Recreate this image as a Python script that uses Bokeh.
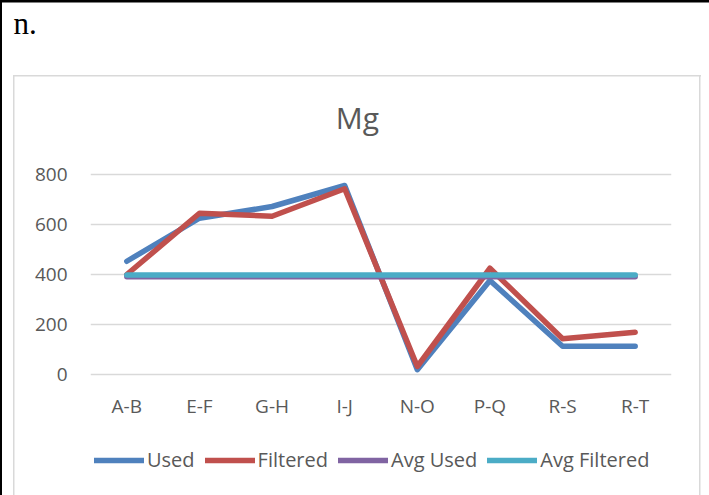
import numpy as np
from bokeh.plotting import figure
from bokeh.layouts import column
from bokeh.models import (FactorRange, Range1d, Label, Title, Legend,
                          LegendItem, FixedTicker)
from bokeh.embed import file_html
from bokeh.resources import INLINE

# Mg concentrations per sampling pair
categories = ["A-B", "E-F", "G-H", "I-J", "N-O", "P-Q", "R-S", "R-T"]
used = [453, 625, 672, 756, 19, 376, 113, 113]
filtered = [400, 645, 633, 743, 32, 425, 143, 169]
avg_used = [391, 391, 391, 391, 391, 391, 391, 391]
avg_filtered = [398, 398, 398, 398, 398, 398, 398, 398]
y_ticks = [0, 200, 400, 600, 800]

series = [("Used", used, "#4F81BD"),
          ("Filtered", filtered, "#C0504D"),
          ("Avg Used", avg_used, "#8064A2"),
          ("Avg Filtered", avg_filtered, "#4BACC6")]

TEXT = "#595959"
FONT = "Open Sans"
LW = 5.5

W, H = 709, 495
FL, FR, FT, FB = 90, 671, 45, 379   # plot frame edges in canvas pixels
CHART_H = 421                        # chart canvas height; legend strip below

grey = "linear-gradient(#D9D9D9,#D9D9D9)"
black = "linear-gradient(#000,#000)"


def rules(top_rule, box_top):
    """CSS background: black page rules plus the light grey chart-area frame."""
    layers = []
    if top_rule:
        layers.append(f"{black} 0 0/100% 2.5px no-repeat")
    layers.append(f"{black} 0 0/2px 100% no-repeat")
    if box_top is not None:
        layers.append(f"{grey} 13px {box_top}px/688px 1.5px no-repeat")
    y0 = box_top or 0
    layers.append(f"{grey} 13px {y0}px/1.5px 100% no-repeat")
    layers.append(f"{grey} 699px {y0}px/1.5px 100% no-repeat")
    layers.append("#ffffff")
    return {"background": ", ".join(layers)}


# ---- chart ---------------------------------------------------------------
p = figure(frame_width=FR - FL, frame_height=FB - FT,
           x_range=FactorRange(*categories),
           y_range=Range1d(-20, 1316), output_backend="svg",
           toolbar_location=None, min_border_left=FL, min_border_right=W - FR,
           min_border_top=FT, min_border_bottom=CHART_H - FB)
p.outline_line_color = None
p.background_fill_alpha = 0
p.border_fill_alpha = 0
p.styles = rules(True, 75)

p.add_layout(Title(text="n.", align="left", offset=-77, standoff=6,
                   vertical_align="top", text_font="Liberation Serif",
                   text_font_size="31px", text_font_style="normal",
                   text_color="black"), "above")

p.add_layout(Label(x=357 - FL, y=FB - 117, x_units="screen", y_units="screen",
                   text="Mg", text_font=FONT, text_font_size="30px",
                   text_color=TEXT, text_align="center", text_baseline="middle"))

for name, vals, color in series:
    p.line(categories, vals, line_color=color, line_width=LW,
           line_cap="round", line_join="round")

p.xgrid.grid_line_color = None
p.ygrid.grid_line_color = "#D9D9D9"
p.ygrid.grid_line_width = 1.5
p.yaxis.ticker = FixedTicker(ticks=y_ticks)
for ax in (p.xaxis[0], p.yaxis[0]):
    ax.axis_line_color = None
    ax.major_tick_line_color = None
    ax.minor_tick_line_color = None
    ax.major_label_text_font = FONT
    ax.major_label_text_font_size = "19px"
    ax.major_label_text_color = TEXT
p.yaxis.major_label_standoff = 17
p.xaxis.major_label_standoff = 7

# ---- legend strip --------------------------------------------------------
LH = H - CHART_H
q = figure(width=W, height=LH, x_range=Range1d(0, W), y_range=Range1d(0, LH),
           output_backend="svg", toolbar_location=None,
           x_axis_location=None, y_axis_location=None,
           min_border=0, min_border_left=0, min_border_right=0,
           min_border_top=0, min_border_bottom=0)
q.outline_line_color = None
q.background_fill_alpha = 0
q.border_fill_alpha = 0
q.xgrid.grid_line_color = None
q.ygrid.grid_line_color = None
q.styles = rules(False, None)

items = []
for name, vals, color in series:
    # legend swatch only; a single NaN point draws nothing on the strip
    r = q.line(x=[np.nan], y=[np.nan], line_color=color, line_width=LW,
               line_cap="round")
    items.append(LegendItem(label=name, renderers=[r]))

legend = Legend(items=items, orientation="horizontal",
                location=(4, 22), glyph_width=50, glyph_height=20,
                label_standoff=3, spacing=10, padding=0, margin=0,
                border_line_color=None, background_fill_alpha=0,
                label_text_font=FONT, label_text_font_size="20px",
                label_text_color=TEXT)
q.add_layout(legend, "center")

page = column(p, q, spacing=0)
open("out.html", "w").write(file_html(page, INLINE))
